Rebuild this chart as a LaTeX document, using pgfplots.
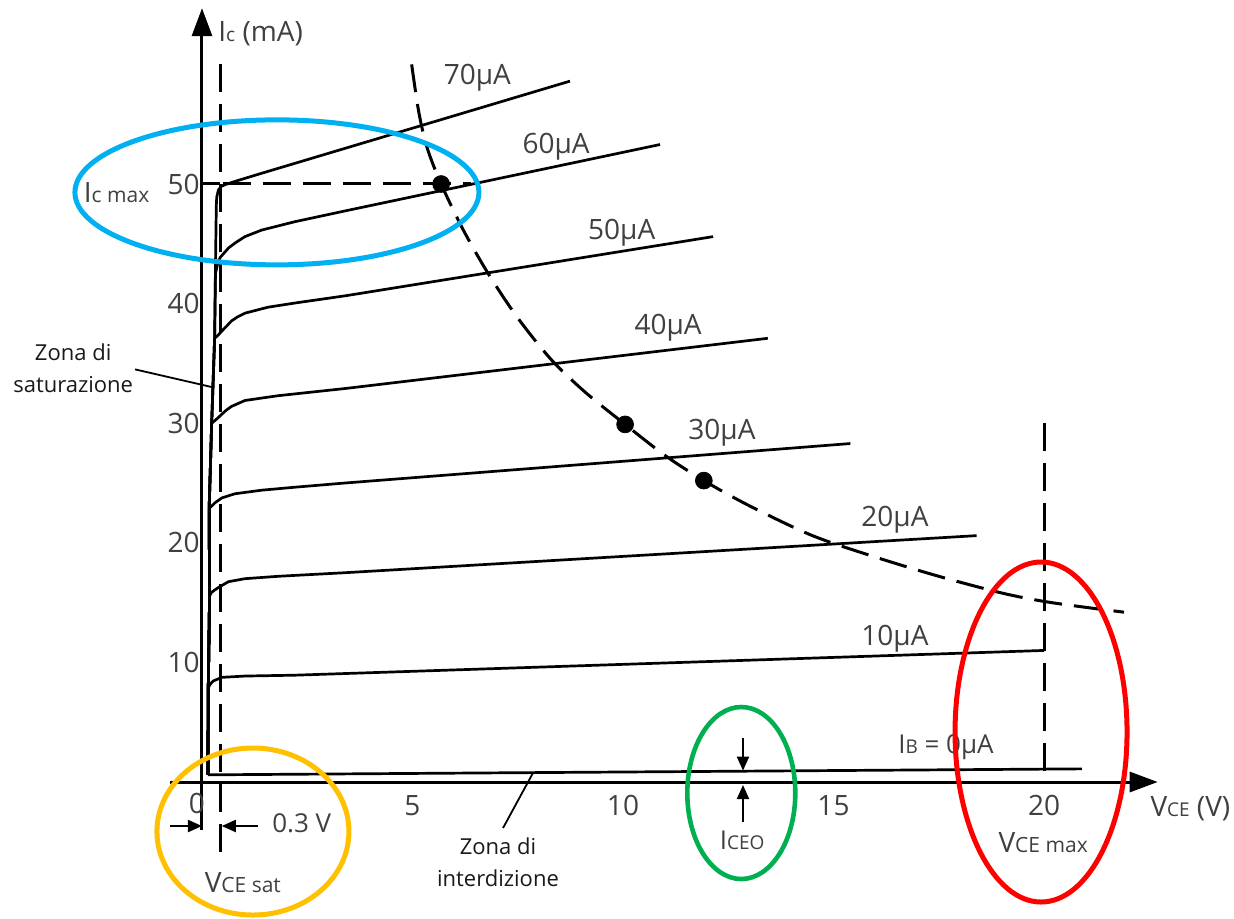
\documentclass[border=0pt]{standalone}
\usepackage{fontspec}
\setmainfont{Open Sans}
\usepackage{pgfplots}
\pgfplotsset{compat=1.18}
\usetikzlibrary{arrows.meta}
\definecolor{lab}{HTML}{404040}
\definecolor{cyanr}{HTML}{00B0F0}
\definecolor{orng}{HTML}{FFC000}
\definecolor{grn}{HTML}{00B050}
\definecolor{redr}{HTML}{FF0000}
\newcommand{\sm}[1]{{\fontsize{9.5}{10}\selectfont #1}}
\tikzset{cl/.style={font=\fontsize{14}{16}\selectfont, text=lab, inner sep=0pt}}
\pgfplotsset{cur/.style={black, line width=1.35pt, line join=round},
  dsh/.style={black, line width=1.5pt, dash pattern=on 14pt off 6pt}}
\begin{document}
\begin{tikzpicture}
\begin{axis}[
 x=21.05pt, y=5.98pt,
 xmin=-0.76, xmax=22.7, ymin=-4, ymax=64.7,
 axis lines=middle,
 axis line style={line width=1.5pt, -{Triangle[length=14pt,width=10pt]}},
 clip=false,
 xtick={5,10,15,20}, ytick={10,20,30,40,50},
 major tick length=0pt,
 tick label style={font=\fontsize{14}{16}\selectfont, text=lab},
 xticklabel style={yshift=-3pt},
 yticklabel style={inner sep=1pt},
 /pgf/number format/assume math mode=true,
]
\coordinate (BL) at (axis cs:-4.798,-11.371);
\coordinate (TR) at (axis cs:24.513,65.385);
% characteristic curves (IB = 0 ... 70 uA)
\addplot[cur] coordinates {(0.14,0.6)(20.9,1.1)};
\addplot[cur] coordinates {(0.14,0.6)(0.15,7.9)(0.2,8.2)(0.27,8.45)(0.47,8.75)(1.02,8.86)(2.2,8.93)(3.4,9.07)(20,11.0)};
\addplot[cur] coordinates {(0.14,0.6)(0.15,8)(0.18,15.5)(0.21,15.8)(0.3,16.05)(0.43,16.35)(0.63,16.75)(1.02,17.0)(1.81,17.2)(3.4,17.5)(18.4,20.6)};
\addplot[cur] coordinates {(0.14,0.6)(0.15,8)(0.18,15.5)(0.17,22.9)(0.24,23.1)(0.31,23.35)(0.47,23.75)(0.78,24.1)(1.42,24.4)(2.21,24.65)(3.4,25.0)(15.4,28.3)};
\addplot[cur] coordinates {(0.14,0.6)(0.15,8)(0.18,15.5)(0.17,22.9)(0.23,30.0)(0.3,30.2)(0.38,30.45)(0.47,30.75)(0.58,31.1)(0.7,31.4)(1.02,31.9)(1.81,32.3)(3.4,32.9)(13.44,37.1)};
\addplot[cur] coordinates {(0.14,0.6)(0.15,8)(0.18,15.5)(0.17,22.9)(0.23,30.0)(0.3,37.1)(0.38,37.35)(0.47,37.7)(0.58,38.1)(0.7,38.55)(0.85,38.9)(1.02,39.2)(1.57,39.7)(2.21,40.05)(3.4,40.65)(12.14,45.6)};
\addplot[cur] coordinates {(0.14,0.6)(0.15,8)(0.18,15.5)(0.17,22.9)(0.23,30.0)(0.3,37.1)(0.32,42.5)(0.37,43.3)(0.43,43.85)(0.53,44.25)(0.63,44.65)(0.8,45.1)(1.02,45.6)(1.42,46.15)(2.21,46.85)(3.4,47.75)(10.88,53.3)};
\addplot[cur] coordinates {(0.14,0.6)(0.15,8)(0.18,15.5)(0.17,22.9)(0.23,30.0)(0.3,37.1)(0.32,43)(0.34,48.2)(0.35,48.9)(0.39,49.5)(0.46,49.8)(0.55,49.95)(0.86,50.3)(1.42,50.9)(8.74,58.6)};
% dashed limits
\addplot[dsh] coordinates {(0.43,60)(0.43,-5.9)};
\addplot[dsh] coordinates {(20,30)(20,0)};
\addplot[black, line width=1.5pt] coordinates {(0,50)(0.43,50)};
\addplot[dsh] coordinates {(0.5,50)(6.4,50)};
\addplot[dsh, smooth] coordinates {(4.98,60)(5.15,56)(5.35,53)(5.68,50)(6.2,46.2)(6.8,42.5)(7.5,38.8)(8.3,35.3)(9.1,32.6)(10.05,29.9)(11.0,27.3)(11.92,25.2)(13,23.1)(14.5,20.6)(16,18.8)(17.5,17.2)(19,15.8)(20,15.1)(21,14.6)(21.9,14.2)};
\addplot[only marks, mark=*, mark size=4.2pt, black] coordinates {(5.68,50)(10.05,29.9)(11.92,25.2)};
% current labels
\node[cl] at (axis cs:6.54,58.9) {70µA};
\node[cl] at (axis cs:8.41,53.1) {60µA};
\node[cl] at (axis cs:9.97,45.9) {50µA};
\node[cl] at (axis cs:11.07,38.0) {40µA};
\node[cl] at (axis cs:12.35,29.2) {30µA};
\node[cl] at (axis cs:16.46,21.9) {20µA};
\node[cl] at (axis cs:16.46,11.96) {10µA};
\node[cl, font=\fontsize{13}{15}\selectfont, anchor=west] at (axis cs:16.53,2.9) {I\sm{B} = 0µA};
% axis labels and annotations
\node[cl, anchor=west] at (axis cs:0.38,62.6) {I\sm{c} (mA)};
\node[cl, anchor=west] at (axis cs:22.52,-2.2) {V\sm{CE} (V)};
\node[cl] at (axis cs:-0.12,-1.76) {0};
\node[cl, anchor=east] at (axis cs:-1.24,49.3) {I{\fontsize{10.5}{12}\selectfont c max}};
\node[cl, font=\fontsize{13}{15}\selectfont] at (axis cs:2.37,-3.43) {0.3 V};
\node[cl] at (axis cs:0.97,-8.44) {V{\fontsize{10.5}{12}\selectfont CE sat}};
\node[cl, font=\fontsize{13}{15}\selectfont] at (axis cs:12.83,-4.85) {I\sm{CEO}};
\node[cl] at (axis cs:19.98,-5.1) {V{\fontsize{10.5}{12}\selectfont CE max}};
\node[font=\fontsize{11}{16}\selectfont, text=black!90, align=center, inner sep=0pt] at (axis cs:-3.06,34.6) {Zona di\\saturazione};
\node[font=\fontsize{11}{16}\selectfont, text=black!90, align=center, inner sep=0pt] at (axis cs:7.03,-6.7) {Zona di\\interdizione};
\draw[line width=0.9pt] (axis cs:-1.59,34.5) -- (axis cs:0.26,33.0);
\draw[line width=0.9pt] (axis cs:7.15,-3.85) -- (axis cs:7.86,0.75);
% arrows
\draw[line width=1pt, -{Triangle[length=7pt,width=6pt]}] (axis cs:-0.76,-3.68) -- (axis cs:0,-3.68);
\draw[line width=1pt, -{Triangle[length=7pt,width=6pt]}] (axis cs:1.33,-3.68) -- (axis cs:0.47,-3.68);
\draw[line width=1pt, -{Triangle[length=7pt,width=6pt]}] (axis cs:12.85,3.7) -- (axis cs:12.85,0.95);
\draw[line width=1pt, -{Triangle[length=7pt,width=6pt]}] (axis cs:12.85,-3.35) -- (axis cs:12.85,-0.25);
% ellipses
\draw[cyanr, line width=2.5pt] (axis cs:1.78,49.3) ellipse [x radius=101pt, y radius=36.25pt];
\draw[orng, line width=2.5pt] (axis cs:1.21,-4.14) ellipse [x radius=48pt, y radius=41.75pt];
\draw[grn, line width=2.3pt] (axis cs:12.81,-0.92) ellipse [x radius=27pt, y radius=43pt];
\draw[redr, line width=2.5pt] (axis cs:19.93,4.18) ellipse [x radius=43pt, y radius=85pt];
\end{axis}
\pgfresetboundingbox
\path (BL) rectangle (TR);
\end{tikzpicture}
\end{document}
